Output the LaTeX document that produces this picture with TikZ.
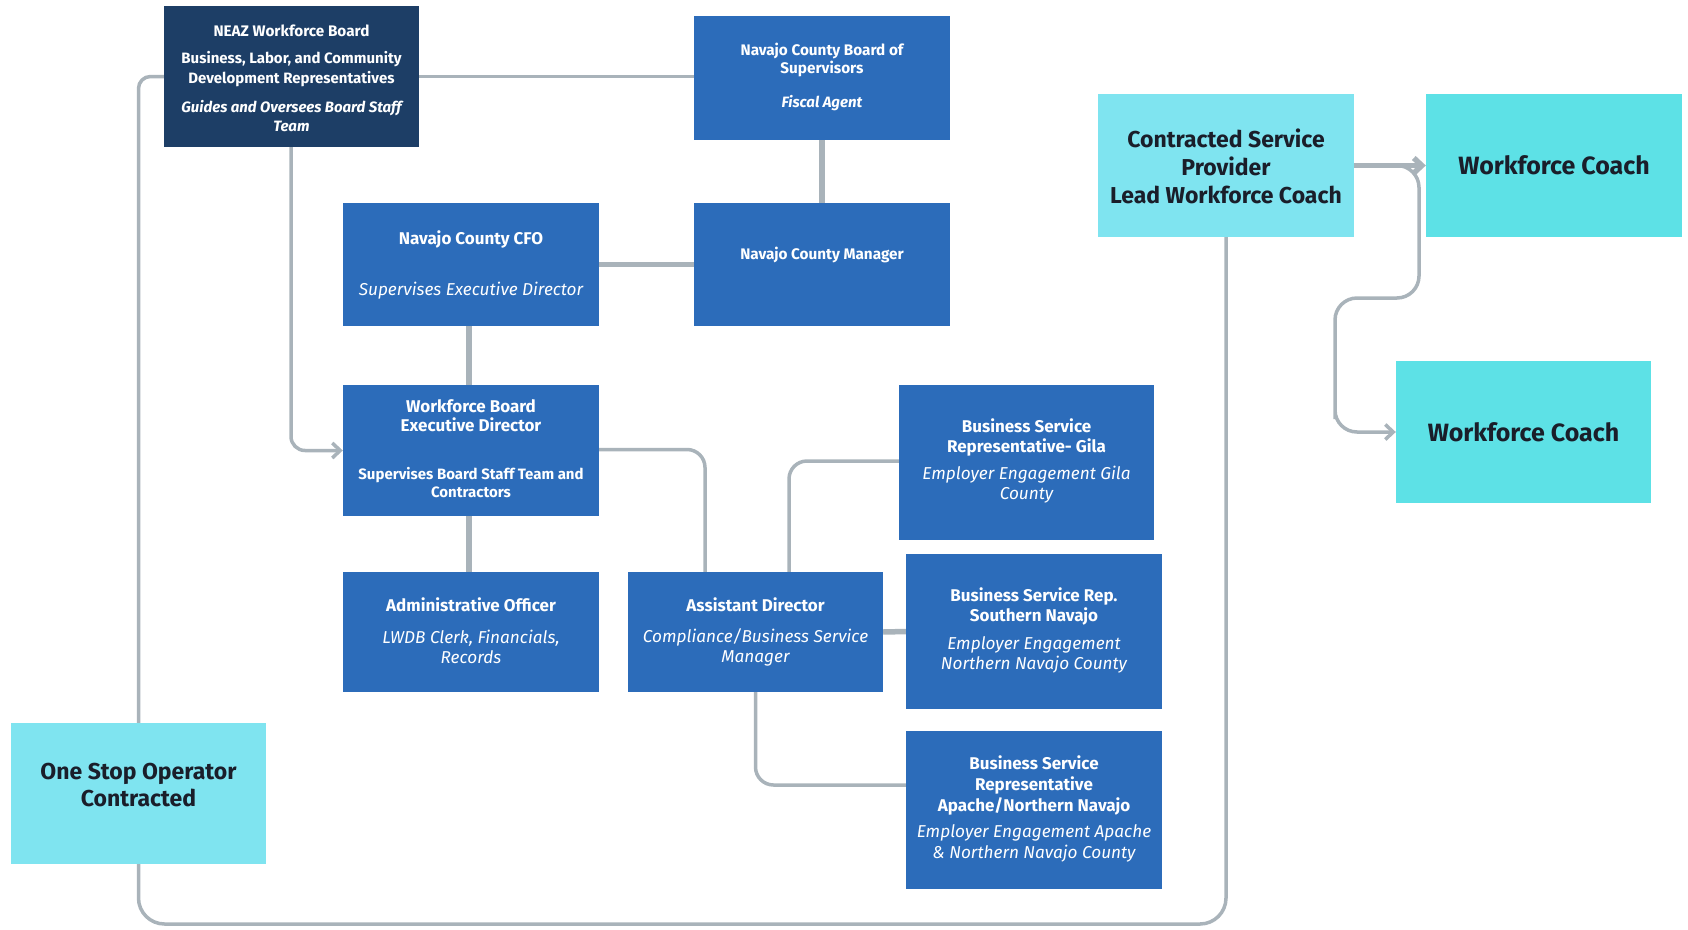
\documentclass[tikz,border=0pt]{standalone}
\usepackage{fontspec}
\setmainfont{Fira Sans}
\usetikzlibrary{arrows.meta}
\definecolor{navy}{HTML}{1D3E66}
\definecolor{bblue}{HTML}{2C6CBA}
\definecolor{lcyan}{HTML}{7FE4F0}
\definecolor{wcyan}{HTML}{5DE1E6}
\definecolor{lgray}{HTML}{A9B3BA}
\definecolor{dtext}{HTML}{1A1E2A}
\begin{document}
\begin{tikzpicture}[x=1pt,y=-1pt,
 box/.style={draw=none, inner sep=0pt, minimum width=256pt},
 navybox/.style={box, fill=navy},
 bluebox/.style={box, fill=bblue},
 cyanbox/.style={box, fill=lcyan},
 coachbox/.style={box, fill=wcyan},
 conn/.style={draw=lgray, line width=3.5pt},
 thickconn/.style={draw=lgray, line width=5.5pt},
 arr/.style={-{Straight Barb[length=8pt,width=15pt]}},
 ttl/.style={text=white, inner sep=0pt, align=center, font=\bfseries\fontsize{17}{20.5}\selectfont},
 sml/.style={text=white, inner sep=0pt, align=center, font=\bfseries\fontsize{15.3}{18}\selectfont},
 sub/.style={text=white, inner sep=0pt, align=center, font=\itshape\fontsize{17.2}{20}\selectfont},
 ctxt/.style={text=dtext, inner sep=0pt, align=center, font=\bfseries\fontsize{23}{28}\selectfont}
]
\useasboundingbox (0,0) rectangle (1688,929);
% boxes
\node[navybox, minimum width=255pt, minimum height=141pt] (neaz) at (291.5,76.5) {};
\node[bluebox, minimum height=124pt] (bos) at (822,78) {};
\node[bluebox, minimum height=123pt] (cfo) at (471,264.5) {};
\node[bluebox, minimum height=123pt] (mgr) at (822,264.5) {};
\node[bluebox, minimum height=131pt] (exd) at (471,450.5) {};
\node[bluebox, minimum height=120pt] (adm) at (471,632) {};
\node[bluebox, minimum width=255pt, minimum height=120pt] (asd) at (755.5,632) {};
\node[bluebox, minimum width=255pt, minimum height=155pt] (gila) at (1026.5,462.5) {};
\node[bluebox, minimum height=155pt] (south) at (1034,631.5) {};
\node[bluebox, minimum height=158pt] (apache) at (1034,810) {};
\node[cyanbox, minimum height=143pt] (csp) at (1226,165.5) {};
\node[coachbox, minimum height=143pt] (wc1) at (1554,165.5) {};
\node[coachbox, minimum width=255pt, minimum height=142pt] (wc2) at (1523.5,432) {};
\node[cyanbox, minimum width=255pt, minimum height=141pt] (one) at (138.5,793.5) {};
% texts
\node[sml] at (291.5,31) {NEAZ Workforce Board};
\node[sml, font=\bfseries\fontsize{15}{20}\selectfont] at (291.5,69) {Business, Labor, and Community\\Development Representatives};
\node[sml, font=\bfseries\itshape\fontsize{15}{19}\selectfont] at (291.5,116.5) {Guides and Oversees Board Staff\\Team};
\node[sml] at (822,60) {Navajo County Board of\\Supervisors};
\node[sml, font=\bfseries\itshape\fontsize{15}{18}\selectfont] at (822,103) {Fiscal Agent};
\node[ttl] at (471,239) {Navajo County CFO};
\node[sub] at (471,291) {Supervises Executive Director};
\node[sml] at (822,255) {Navajo County Manager};
\node[ttl, font=\bfseries\fontsize{17}{19.5}\selectfont] at (471,415.5) {Workforce Board\\Executive Director};
\node[sml, font=\bfseries\fontsize{15}{17.5}\selectfont] at (471,482.5) {Supervises Board Staff Team and\\Contractors};
\node[ttl] at (471,605) {Administrative Officer};
\node[sub] at (471,647) {LWDB Clerk, Financials,\\Records};
\node[ttl] at (755.5,605) {Assistant Director};
\node[sub] at (755.5,647) {Compliance/Business Service\\Manager};
\node[ttl] at (1026.5,437.5) {Business Service\\Representative- Gila};
\node[sub] at (1026.5,485) {Employer Engagement Gila\\County};
\node[ttl] at (1034,606.5) {Business Service Rep.\\Southern Navajo};
\node[sub] at (1034,654.5) {Employer Engagement\\Northern Navajo County};
\node[ttl, font=\bfseries\fontsize{17}{21}\selectfont] at (1034,785) {Business Service\\Representative\\Apache/Northern Navajo};
\node[sub, font=\itshape\fontsize{17.2}{21}\selectfont] at (1034,843.5) {Employer Engagement Apache\\\& Northern Navajo County};
\node[ctxt] at (1226,166) {Contracted Service\\Provider\\Lead Workforce Coach};
\node[ctxt, font=\bfseries\fontsize{25}{28}\selectfont] at (1554,165.5) {Workforce Coach};
\node[ctxt, font=\bfseries\fontsize{25}{28}\selectfont] at (1523.5,432) {Workforce Coach};
\node[ctxt, font=\bfseries\fontsize{23}{27}\selectfont] at (138.5,785.5) {One Stop Operator\\Contracted};
% coordinates
\coordinate (bot) at (0,924);
\coordinate (br) at ([xshift=41pt]csp.east);
\coordinate (k1) at (1419,298);
\coordinate (k2) at (1335,432);
% connectors
\draw[conn] (neaz.east) -- (neaz.east -| bos.west);
\draw[conn, rounded corners=12pt] (neaz.west) -| (one.north);
\draw[conn, rounded corners=26pt] (one.south) -- (one.south |- bot) -- (csp.south |- bot) -- (csp.south);
\draw[conn, arr, rounded corners=14pt] ([xshift=-0.5pt]neaz.south) |- (exd.west);
\draw[thickconn] (bos.south) -- (mgr.north);
\draw[thickconn] (cfo.east) -- (mgr.west);
\draw[thickconn] ([xshift=-2pt]cfo.south) -- ([xshift=-2pt]exd.north);
\draw[thickconn] ([xshift=-2pt]exd.south) -- ([xshift=-2pt]adm.north);
\draw[conn, rounded corners=18pt] ([yshift=1pt]exd.east) -| ([xshift=-50.5pt]asd.north);
\draw[conn, rounded corners=18pt] ([xshift=33.5pt]asd.north) |- ([yshift=1.5pt]gila.west);
\draw[thickconn] (asd.east) -- (south.west);
\draw[conn, rounded corners=18pt] (asd.south) |- ([yshift=25pt]apache.west);
\draw[thickconn, arr] (csp.east) -- (wc1.west);
\draw[conn, arr, rounded corners=22pt] (br) -| (k1) -| (k2) |- (wc2.west);
\end{tikzpicture}
\end{document}
